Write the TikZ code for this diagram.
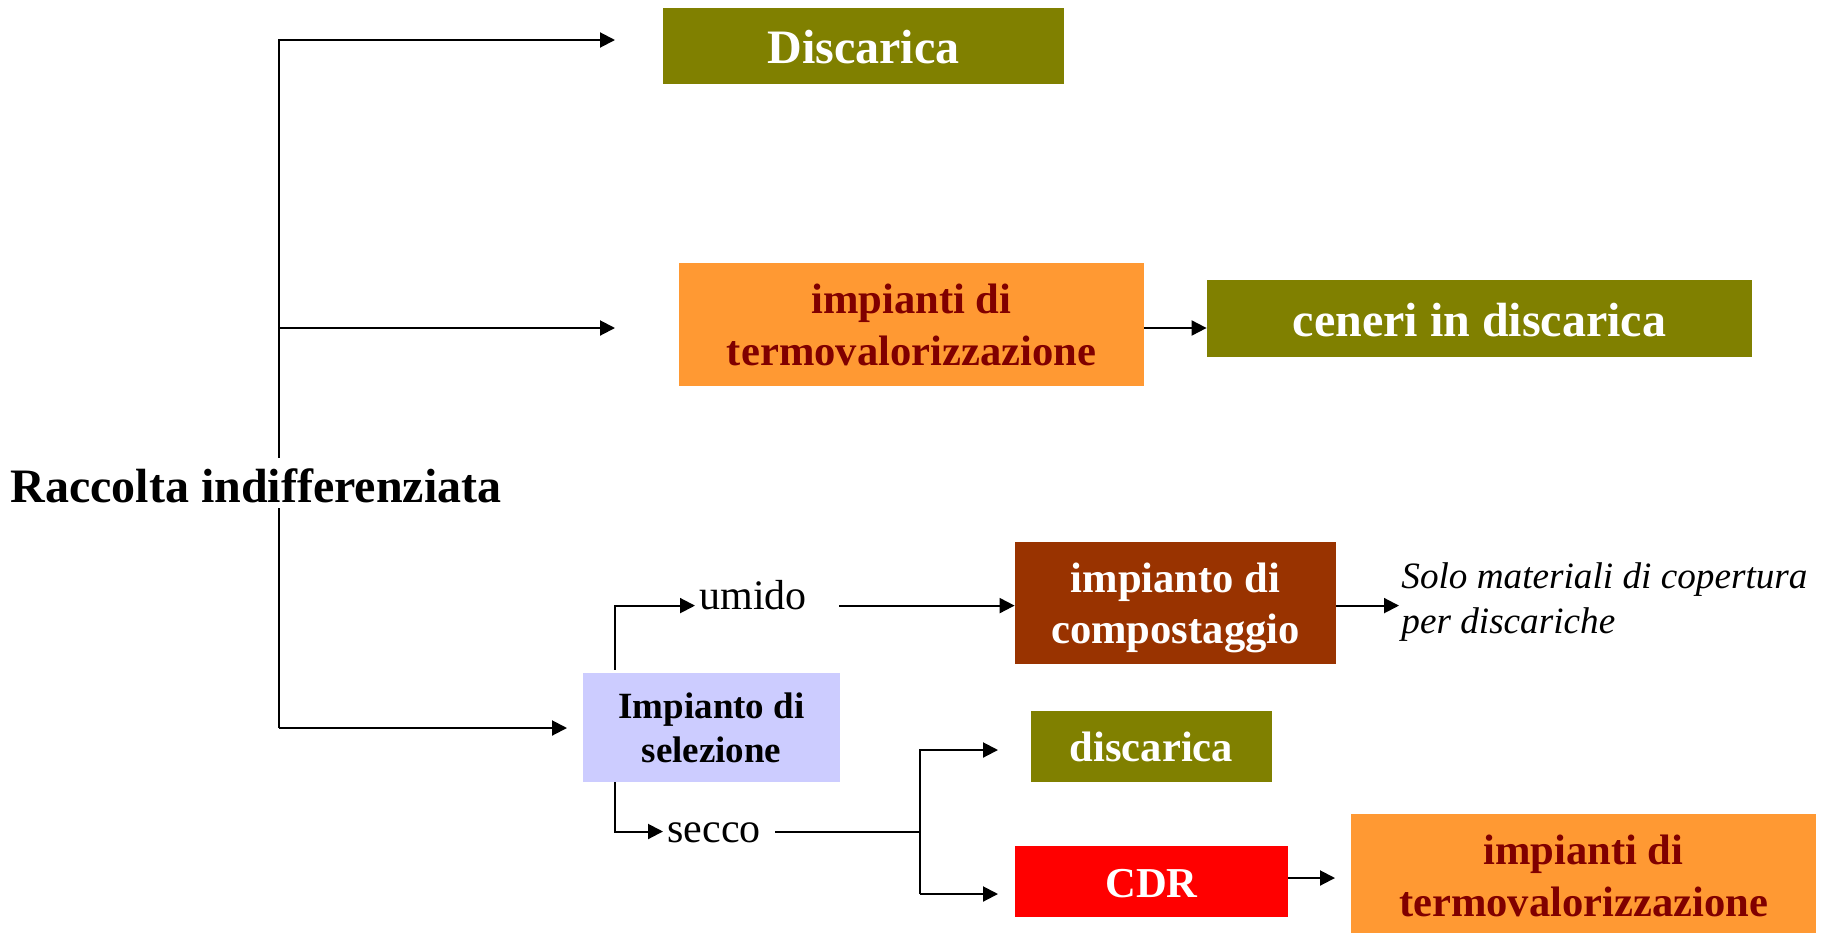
\documentclass[tikz,border=0pt]{standalone}
\usepackage{fontspec}
\setmainfont{Liberation Serif}
\usetikzlibrary{arrows.meta}
\definecolor{myolive}{HTML}{808000}
\definecolor{myorange}{HTML}{FF9933}
\definecolor{mydarkred}{HTML}{800000}
\definecolor{mybrown}{HTML}{993300}
\definecolor{mylavender}{HTML}{CCCCFF}
\definecolor{myred}{HTML}{FF0000}
\newcommand{\twoln}[2]{\vtop{\halign{\hfil##\hfil\cr#1\cr#2\cr}}}
\begin{document}
\begin{tikzpicture}[x=0.5pt,y=-0.5pt,
  box/.style={rectangle, inner sep=0pt},
  big/.style={font=\bfseries\fontsize{24}{28}\selectfont},
  mid/.style={font=\bfseries\fontsize{21.3}{26}\selectfont},
  arr/.style={line width=1pt, -{Triangle[length=7.5pt,width=7.5pt]}},
  ln/.style={line width=1pt},
  lbl/.style={inner sep=0pt, font=\fontsize{21}{25}\selectfont}]
\useasboundingbox (0,0) rectangle (1829,932);
\clip (0,0) rectangle (1829,932);

% boxes
\node[box, big, fill=myolive, text=white, minimum width=200.5pt, minimum height=38pt,
      text height=18pt, text depth=1pt] (disc) at (863.5,46) {Discarica};
\node[box, mid, fill=myorange, text=mydarkred, minimum width=232.5pt, minimum height=61.5pt,
      text height=15pt, text depth=26.2pt] (term1) at (911.5,324.5) {\twoln{impianti di}{termovalorizzazione}};
\node[box, big, fill=myolive, text=white, minimum width=272.5pt, minimum height=38.5pt,
      text height=18.5pt, text depth=1pt] (ceneri) at (1479.5,318.5) {ceneri in discarica};
\node[box, fill=mylavender, text=black, minimum width=128.5pt, minimum height=54.5pt,
      font=\bfseries\fontsize{18.5}{22}\selectfont,
      text height=12pt, text depth=21pt] (sel) at (711.5,727.5) {\twoln{Impianto di}{selezione}};
\node[box, fill=mybrown, text=white, minimum width=160.5pt, minimum height=60.75pt,
      font=\bfseries\fontsize{21.3}{25.5}\selectfont,
      text height=15pt, text depth=25.5pt] (comp) at (1175.5,603) {\twoln{impianto di}{compostaggio}};
\node[box, mid, fill=myolive, text=white, minimum width=120.5pt, minimum height=35.5pt,
      text height=16pt, text depth=0.8pt] (disc2) at (1151.5,746.5) {discarica};
\node[box, mid, fill=myred, text=white, minimum width=136.5pt, minimum height=35.5pt,
      text height=17pt, text depth=0.8pt] (cdr) at (1151.5,881.5) {CDR};
\node[box, mid, fill=myorange, text=mydarkred, minimum width=232.5pt, minimum height=61pt,
      text height=15pt, text depth=25.7pt] (term2) at (1583.5,875) {\twoln{impianti di}{termovalorizzazione}};

% labels
\node[lbl, anchor=base west] (umido) at (699,609) {umido};
\node[lbl, anchor=base west] (secco) at (667,842) {secco};
\node[inner sep=0pt, anchor=west, align=left, font=\itshape\fontsize{18.6}{22.5}\selectfont] (solo) at (1401,602) {Solo materiali di copertura\\per discariche};

% trunk coordinates
\coordinate (t1) at (279,40);
\coordinate (t2) at (279,328);
\coordinate (t3) at (279,728);
\coordinate (e1) at (615,40);
\coordinate (e2) at (615,328);
\coordinate (e3) at (567,728);
\draw[arr] (t3) -- (t1) -- (e1);
\draw[arr] (t2) -- (e2);
\draw[arr] (t3) -- (e3);

% title over trunk
\node[inner sep=0pt, anchor=base west, fill=white, text height=22pt, text depth=3pt,
      font=\bfseries\fontsize{24}{28}\selectfont] (rac) at (10,502) {Raccolta indifferenziata};

% orange -> ceneri
\coordinate (c1) at (0,328);
\draw[arr] (term1.east |- c1) -- (ceneri.west |- c1);

% umido branch
\coordinate (u1) at (615,605.6);
\coordinate (u2) at (695,605.6);
\coordinate (u3) at (839,605.6);
\coordinate (s1) at (1399,605.6);
\draw[arr] ([yshift=1.5pt]sel.north -| u1) -- (u1) -- (u2);
\draw[arr] (u3) -- (comp.west |- u3);
\draw[arr] (comp.east |- u3) -- (s1);

% secco branch
\coordinate (d1) at (615,831.5);
\coordinate (d2) at (663,831.5);
\coordinate (d3) at (775,831.5);
\coordinate (j) at (920,831.5);
\coordinate (ja) at (920,750);
\coordinate (jb) at (920,894);
\coordinate (ka) at (998,750);
\coordinate (kb) at (998,894);
\draw[arr] (sel.south -| d1) -- (d1) -- (d2);
\draw[ln] (d3) -- (j);
\draw[arr] (jb) -- (ja) -- (ka);
\draw[arr] (jb) -- (kb);

% CDR -> termovalorizzazione
\coordinate (c2) at (0,878);
\coordinate (c3) at (1335,878);
\draw[arr] (cdr.east |- c2) -- (c3);
\end{tikzpicture}
\end{document}
